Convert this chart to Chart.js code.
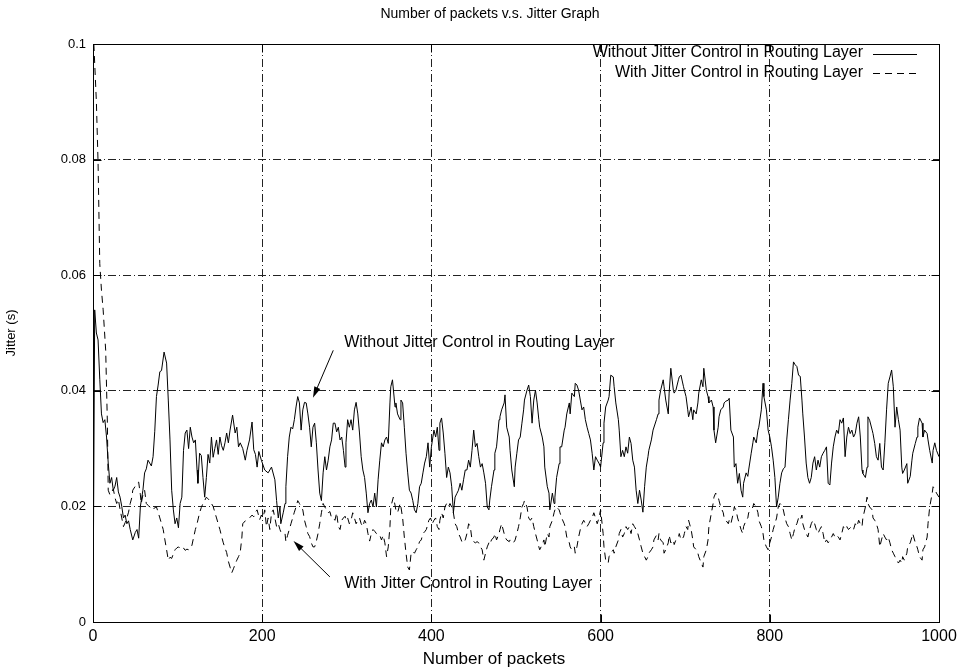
<!DOCTYPE html>
<html>
<head>
<meta charset="utf-8">
<script src="https://cdn.jsdelivr.net/npm/chart.js@4.4.1/dist/chart.umd.min.js"></script>
<style>
  html, body { margin: 0; padding: 0; background: #fff; }
  #wrap { width: 962px; height: 669px; }
</style>
</head>
<body>
<div id="wrap"><canvas id="graph01"></canvas></div>
<script>
const xTicks = [0, 200, 400, 600, 800, 1000];
const yTicks = [0, 0.02, 0.04, 0.06, 0.08, 0.1];
const seriesNames = ['Without Jitter Control in Routing Layer', 'With Jitter Control in Routing Layer'];
const chartTitle = 'Number of packets v.s. Jitter Graph';
const xTitle = 'Number of packets';

// [packet, jitter (s)]
const withoutJitter = [
  [0,0],[2,0.054],[4,0.05],[6,0.0488],[8,0.042],[10,0.036],[12,0.0345],[14,0.035],[16,0.032],[18,0.0275],
  [20,0.024],[22,0.025],[24,0.0228],[26,0.0235],[28,0.025],[30,0.0225],[32,0.0216],[34,0.02],[36,0.018],[38,0.0185],
  [40,0.017],[42,0.0175],[44,0.016],[47,0.0142],[50,0.0155],[52,0.016],[54,0.0145],[56,0.02],[59,0.0228],[61,0.0258],
  [63,0.0265],[65,0.028],[67,0.0275],[69,0.027],[71,0.0286],[73,0.033],[75,0.039],[77,0.041],[79,0.0433],[81,0.0435],
  [84,0.0467],[87,0.0448],[89,0.0384],[91,0.0315],[93,0.0228],[95,0.0194],[97,0.017],[99,0.018],[101,0.0163],[103,0.0205],
  [105,0.0216],[107,0.0297],[109,0.0327],[111,0.0332],[113,0.03],[115,0.0337],[117,0.032],[119,0.031],[121,0.0315],[123,0.0263],
  [124,0.024],[126,0.0292],[128,0.0288],[130,0.025],[132,0.0216],[134,0.025],[136,0.029],[138,0.0275],[140,0.032],[142,0.0285],
  [144,0.03],[146,0.0315],[148,0.029],[150,0.032],[152,0.0305],[154,0.0297],[156,0.031],[158,0.0327],[160,0.031],[162,0.0332],
  [165,0.0358],[168,0.0327],[170,0.0337],[172,0.0303],[174,0.031],[177,0.03],[180,0.028],[182,0.0297],[185,0.0315],[188,0.0346],
  [190,0.0298],[192,0.029],[194,0.0268],[196,0.0295],[199,0.028],[203,0.0263],[207,0.0258],[211,0.0268],[215,0.0246],[217,0.021],
  [219,0.018],[221,0.0199],[222,0.017],[225,0.019],[227,0.0205],[228,0.0234],[230,0.0286],[232,0.032],[234,0.0337],[236,0.0334],
  [238,0.035],[240,0.0372],[242,0.039],[244,0.0379],[246,0.0332],[248,0.0367],[250,0.038],[252,0.0379],[254,0.036],[256,0.0337],
  [258,0.0303],[260,0.0337],[262,0.0344],[264,0.031],[266,0.0263],[268,0.0223],[270,0.021],[272,0.0258],[274,0.0286],[276,0.0263],
  [278,0.028],[280,0.0303],[282,0.0315],[284,0.0344],[286,0.0344],[288,0.0329],[290,0.0337],[292,0.0315],[294,0.032],[296,0.0297],
  [298,0.0268],[299,0.031],[301,0.035],[303,0.0337],[305,0.035],[307,0.0332],[309,0.0367],[311,0.038],[313,0.036],[315,0.0327],
  [317,0.0286],[319,0.0263],[321,0.025],[323,0.0223],[325,0.0189],[327,0.0205],[329,0.0211],[331,0.0199],[333,0.0223],[335,0.0199],
  [337,0.0246],[339,0.028],[341,0.031],[343,0.0303],[345,0.0315],[347,0.032],[349,0.0309],[351,0.0379],[352,0.0407],[354,0.0419],
  [357,0.0372],[358,0.0379],[360,0.036],[363,0.035],[364,0.0384],[366,0.0379],[368,0.0337],[370,0.0292],[372,0.0258],[374,0.0228],
  [376,0.0223],[378,0.021],[380,0.0194],[382,0.0189],[384,0.0205],[386,0.0234],[388,0.024],[390,0.0258],[392,0.0275],[394,0.0286],
  [396,0.031],[398,0.0268],[400,0.0303],[403,0.0332],[405,0.032],[407,0.0337],[409,0.0297],[410,0.0344],[412,0.0353],[414,0.0327],
  [416,0.0292],[418,0.025],[420,0.0268],[422,0.0258],[424,0.0234],[426,0.0189],[428,0.0216],[430,0.0222],[432,0.0228],[434,0.024],
  [436,0.0228],[438,0.0246],[440,0.0263],[442,0.0263],[444,0.028],[446,0.0268],[448,0.0297],[450,0.0332],[452,0.0303],[454,0.0309],
  [456,0.0286],[458,0.0268],[460,0.0274],[462,0.0258],[464,0.024],[466,0.0199],[468,0.0194],[469,0.0211],[471,0.0234],[474,0.0263],
  [475,0.0292],[477,0.0303],[480,0.035],[481,0.0355],[483,0.0367],[486,0.0379],[487,0.0393],[489,0.0337],[492,0.032],[493,0.0297],
  [495,0.0263],[498,0.0234],[499,0.0268],[501,0.0292],[503,0.0315],[505,0.032],[507,0.0344],[509,0.0367],[510,0.0384],[513,0.0401],
  [515,0.041],[517,0.039],[519,0.0344],[521,0.0384],[523,0.0401],[525,0.0379],[527,0.035],[528,0.0337],[531,0.032],[533,0.0303],
  [534,0.0268],[537,0.0234],[539,0.0223],[540,0.0194],[543,0.0223],[545,0.0205],[546,0.0216],[548,0.025],[551,0.0274],[552,0.0303],
  [554,0.0303],[557,0.0332],[558,0.0337],[560,0.036],[563,0.0379],[564,0.036],[566,0.0396],[569,0.039],[570,0.0413],[572,0.041],
  [574,0.0401],[576,0.0384],[578,0.0367],[580,0.0372],[582,0.035],[584,0.0337],[586,0.0326],[588,0.0315],[590,0.0292],[592,0.0263],
  [594,0.0286],[596,0.028],[598,0.0275],[600,0.0268],[603,0.031],[604,0.0344],[606,0.0372],[609,0.0384],[610,0.039],[612,0.0427],
  [615,0.0424],[616,0.0407],[618,0.0379],[621,0.035],[622,0.0332],[624,0.0286],[626,0.0297],[628,0.0286],[630,0.0303],[632,0.0292],
  [634,0.032],[636,0.0309],[638,0.028],[640,0.0268],[642,0.0228],[644,0.0205],[646,0.0228],[648,0.0211],[650,0.019],[652,0.0234],
  [654,0.0268],[656,0.0286],[657,0.0297],[660,0.0315],[662,0.0332],[663,0.0332],[666,0.035],[668,0.036],[669,0.0384],[671,0.0401],
  [674,0.0419],[675,0.0407],[677,0.0384],[680,0.036],[681,0.0396],[683,0.0439],[686,0.0401],[687,0.0396],[689,0.0401],[692,0.0419],
  [693,0.0424],[695,0.0427],[698,0.0407],[699,0.0401],[701,0.039],[703,0.0367],[704,0.0355],[707,0.0372],[709,0.035],[710,0.0367],
  [713,0.036],[715,0.0379],[716,0.0396],[719,0.0419],[721,0.0407],[722,0.0439],[725,0.0401],[727,0.039],[728,0.0379],[731,0.0384],
  [733,0.0372],[734,0.0332],[736,0.031],[739,0.0337],[740,0.0355],[742,0.0367],[745,0.0372],[746,0.0379],[748,0.0382],[751,0.0384],
  [752,0.0387],[754,0.0332],[757,0.032],[758,0.0268],[760,0.0274],[762,0.024],[764,0.0257],[766,0.0228],[768,0.0216],[769,0.024],
  [772,0.0258],[774,0.0252],[775,0.0263],[778,0.0292],[780,0.031],[781,0.032],[784,0.031],[786,0.0332],[787,0.0337],[790,0.0367],
  [792,0.0413],[793,0.039],[796,0.0367],[798,0.0332],[800,0.032],[802,0.0303],[804,0.028],[806,0.025],[808,0.0199],[810,0.0216],
  [812,0.024],[814,0.0258],[816,0.0265],[818,0.0268],[820,0.0315],[822,0.035],[824,0.0384],[826,0.0413],[828,0.045],[830,0.0445],
  [832,0.0442],[834,0.0427],[836,0.0425],[838,0.0384],[839,0.036],[841,0.032],[843,0.0275],[845,0.025],[847,0.024],[849,0.025],
  [851,0.0275],[853,0.0286],[855,0.0263],[857,0.028],[859,0.0268],[861,0.0286],[863,0.0292],[865,0.0297],[867,0.0303],[869,0.024],
  [871,0.0237],[873,0.0275],[875,0.0303],[877,0.032],[879,0.0332],[881,0.0326],[883,0.035],[885,0.0344],[887,0.0353],[889,0.0286],
  [891,0.032],[893,0.0337],[895,0.0326],[897,0.0332],[899,0.032],[901,0.0326],[903,0.0344],[905,0.0355],[907,0.032],[909,0.0263],
  [910,0.0257],[913,0.025],[915,0.0268],[916,0.0355],[918,0.0349],[921,0.0332],[922,0.0326],[924,0.0309],[926,0.0286],[928,0.028],
  [930,0.0309],[932,0.0268],[934,0.0263],[936,0.031],[938,0.0367],[940,0.0413],[942,0.0424],[944,0.0436],[946,0.0407],[948,0.0337],
  [950,0.0372],[952,0.035],[954,0.0332],[956,0.0268],[957,0.0257],[959,0.0263],[962,0.0274],[963,0.024],[966,0.0252],[968,0.028],
  [969,0.0292],[972,0.0309],[974,0.032],[975,0.0337],[977,0.0353],[980,0.0344],[981,0.032],[983,0.0332],[986,0.0326],[987,0.0315],
  [989,0.0297],[992,0.0275],[993,0.0297],[995,0.031],[997,0.0297],[1000,0.0286]
];

const withJitter = [
  [1,0.1],[4,0.09],[6,0.0794],[8,0.062],[10,0.0574],[12,0.054],[15,0.047],[17,0.0344],[18,0.0228],[20,0.022],
  [22,0.0225],[24,0.023],[26,0.0215],[28,0.0205],[30,0.0212],[32,0.0195],[34,0.018],[36,0.0165],[38,0.0172],[40,0.018],
  [42,0.019],[44,0.0205],[46,0.0216],[47,0.0228],[50,0.0235],[52,0.024],[54,0.0242],[56,0.022],[57,0.0205],[59,0.022],
  [61,0.0228],[63,0.0205],[65,0.0202],[67,0.0199],[69,0.0196],[71,0.0194],[73,0.0198],[75,0.0199],[77,0.019],[79,0.018],
  [81,0.017],[83,0.016],[85,0.0142],[87,0.0125],[89,0.0107],[91,0.0112],[93,0.011],[95,0.0118],[97,0.0125],[99,0.0128],
  [101,0.013],[103,0.0127],[105,0.0125],[107,0.0128],[109,0.0124],[111,0.0126],[113,0.0125],[115,0.0127],[117,0.0133],[119,0.0147],
  [121,0.016],[123,0.017],[126,0.0189],[128,0.0198],[130,0.0205],[132,0.021],[134,0.0216],[136,0.0213],[138,0.021],[140,0.0205],
  [142,0.02],[144,0.019],[146,0.018],[148,0.017],[150,0.016],[152,0.0148],[154,0.0137],[156,0.0128],[158,0.012],[160,0.0105],
  [162,0.0095],[164,0.0085],[166,0.0092],[168,0.01],[170,0.0107],[172,0.0113],[174,0.012],[176,0.0147],[177,0.017],[180,0.0175],
  [182,0.0177],[185,0.018],[188,0.0185],[190,0.0182],[192,0.019],[194,0.0194],[197,0.0177],[199,0.0185],[201,0.018],[203,0.0194],
  [205,0.0165],[207,0.018],[209,0.016],[211,0.0189],[213,0.0194],[215,0.018],[217,0.0165],[219,0.017],[221,0.016],[222,0.0156],
  [225,0.0155],[227,0.0153],[228,0.0139],[230,0.015],[232,0.016],[234,0.017],[236,0.018],[238,0.019],[240,0.0199],[242,0.021],
  [244,0.0205],[246,0.0199],[248,0.0194],[250,0.0176],[252,0.0165],[254,0.0153],[256,0.0148],[258,0.0137],[260,0.013],[262,0.013],
  [264,0.014],[266,0.0153],[268,0.017],[270,0.0189],[272,0.0205],[274,0.0199],[276,0.0194],[278,0.0189],[280,0.0191],[282,0.018],
  [284,0.018],[286,0.0176],[288,0.0189],[290,0.0165],[292,0.016],[294,0.0176],[296,0.018],[298,0.0183],[299,0.0176],[301,0.018],
  [303,0.017],[305,0.0176],[307,0.0189],[309,0.018],[311,0.017],[313,0.0176],[315,0.018],[317,0.017],[319,0.0165],[321,0.0176],
  [323,0.017],[325,0.0153],[327,0.014],[329,0.0153],[331,0.016],[333,0.0157],[335,0.0153],[337,0.0153],[339,0.015],[341,0.0142],
  [343,0.015],[345,0.0137],[347,0.0113],[349,0.013],[351,0.0165],[352,0.0199],[355,0.0216],[356,0.021],[358,0.0194],[360,0.0189],
  [363,0.0205],[364,0.0199],[366,0.018],[368,0.0147],[370,0.0119],[372,0.0095],[374,0.009],[376,0.0119],[378,0.0122],[380,0.0119],
  [382,0.0125],[384,0.013],[386,0.0139],[388,0.0142],[390,0.0153],[392,0.0156],[394,0.016],[397,0.0176],[399,0.018],[401,0.017],
  [403,0.0176],[405,0.018],[407,0.0165],[409,0.016],[410,0.0176],[412,0.0189],[414,0.018],[416,0.0199],[418,0.0205],[420,0.0199],
  [422,0.0205],[424,0.0199],[426,0.0189],[428,0.017],[430,0.0165],[432,0.0153],[434,0.0147],[436,0.0139],[438,0.0137],[440,0.0142],
  [442,0.0153],[444,0.017],[446,0.0165],[448,0.0142],[450,0.0139],[452,0.0137],[454,0.0139],[456,0.0137],[458,0.013],[460,0.0125],
  [462,0.0107],[464,0.0119],[466,0.013],[468,0.0137],[469,0.0134],[471,0.0142],[474,0.0147],[475,0.0153],[477,0.0142],[480,0.0153],
  [481,0.016],[483,0.017],[486,0.0153],[487,0.0147],[489,0.0142],[492,0.0139],[493,0.0142],[495,0.0137],[498,0.0139],[499,0.0142],
  [501,0.0153],[503,0.0165],[505,0.018],[507,0.0199],[509,0.0205],[510,0.021],[513,0.0199],[515,0.018],[517,0.0176],[519,0.018],
  [521,0.0165],[523,0.0153],[525,0.0142],[527,0.013],[528,0.0125],[531,0.0134],[533,0.0142],[534,0.013],[537,0.0153],[539,0.0147],
  [540,0.0165],[543,0.0176],[545,0.0189],[546,0.0194],[548,0.0199],[551,0.0194],[552,0.0189],[554,0.018],[557,0.017],[558,0.0165],
  [560,0.0147],[563,0.0137],[564,0.013],[566,0.0125],[569,0.013],[570,0.0119],[572,0.013],[574,0.0147],[576,0.016],[578,0.017],
  [580,0.0176],[582,0.017],[584,0.0165],[586,0.017],[588,0.0176],[590,0.018],[592,0.0189],[594,0.018],[596,0.017],[598,0.018],
  [600,0.0194],[603,0.0153],[604,0.013],[606,0.0107],[609,0.0102],[610,0.0113],[612,0.0119],[615,0.0125],[616,0.0119],[618,0.013],
  [621,0.0142],[622,0.0153],[624,0.016],[626,0.0147],[628,0.0153],[630,0.0165],[632,0.016],[634,0.0165],[636,0.0153],[638,0.017],
  [640,0.0165],[642,0.016],[644,0.0153],[646,0.0142],[648,0.013],[650,0.0119],[652,0.0113],[654,0.0107],[656,0.0113],[657,0.0119],
  [660,0.0125],[662,0.013],[663,0.0142],[666,0.015],[668,0.0142],[669,0.0153],[671,0.0142],[674,0.0137],[675,0.0119],[677,0.0125],
  [680,0.0137],[681,0.015],[683,0.0137],[686,0.0142],[687,0.0134],[689,0.0142],[692,0.0147],[693,0.0153],[695,0.0142],[698,0.0147],
  [699,0.0153],[701,0.0165],[703,0.016],[704,0.0176],[707,0.016],[709,0.0142],[710,0.013],[713,0.0125],[715,0.0119],[716,0.0113],
  [719,0.0102],[721,0.0095],[722,0.0113],[725,0.0125],[727,0.0142],[728,0.0165],[731,0.0189],[733,0.0205],[734,0.0216],[736,0.0223],
  [739,0.0216],[740,0.021],[742,0.0199],[745,0.0189],[746,0.018],[748,0.0176],[751,0.017],[752,0.0176],[754,0.017],[757,0.0189],
  [758,0.0199],[760,0.0194],[762,0.018],[764,0.017],[766,0.016],[768,0.0153],[769,0.0165],[772,0.0176],[774,0.018],[775,0.0189],
  [778,0.0194],[780,0.0199],[781,0.0205],[784,0.0199],[786,0.0189],[787,0.0176],[790,0.0165],[792,0.0153],[793,0.0142],[794,0.0137],
  [796,0.013],[798,0.0125],[800,0.0137],[802,0.0147],[804,0.016],[806,0.017],[808,0.018],[810,0.0199],[812,0.0205],[814,0.0202],
  [816,0.0194],[818,0.018],[820,0.017],[822,0.0165],[824,0.0153],[826,0.0142],[828,0.0153],[830,0.0165],[832,0.017],[834,0.018],
  [836,0.0176],[838,0.0185],[839,0.017],[841,0.016],[843,0.0153],[845,0.0147],[847,0.016],[849,0.017],[851,0.0176],[853,0.017],
  [855,0.016],[857,0.0153],[859,0.016],[861,0.0165],[863,0.0153],[865,0.0137],[867,0.0142],[869,0.0137],[871,0.0142],[873,0.0147],
  [875,0.0153],[877,0.0147],[879,0.015],[881,0.0147],[883,0.0142],[885,0.0153],[887,0.0165],[889,0.016],[891,0.0165],[893,0.016],
  [895,0.0163],[897,0.0165],[899,0.016],[901,0.017],[903,0.0165],[905,0.0176],[907,0.017],[909,0.0165],[910,0.018],[913,0.0199],
  [915,0.0216],[916,0.0205],[918,0.0199],[921,0.0194],[922,0.018],[924,0.0176],[926,0.017],[928,0.016],[930,0.013],[932,0.0142],
  [934,0.0153],[936,0.0147],[938,0.0142],[940,0.0147],[942,0.0137],[944,0.0125],[946,0.0119],[948,0.0113],[950,0.0107],[952,0.0102],
  [954,0.0107],[956,0.0102],[957,0.0113],[959,0.0107],[962,0.0119],[963,0.013],[966,0.0137],[968,0.0147],[969,0.0153],[972,0.0137],
  [974,0.013],[975,0.0125],[977,0.0113],[980,0.0107],[981,0.0125],[983,0.013],[986,0.0147],[987,0.017],[989,0.0199],[992,0.0223],
  [993,0.0234],[995,0.023],[997,0.0223],[1000,0.0216]
];

// text labels with arrows inside the plot, in data units
const notes = [
  { text: seriesNames[0], at: [297, 0.0483], from: [284, 0.0470], to: [260, 0.0388] },
  { text: seriesNames[1], at: [297, 0.0067], from: [280, 0.0078], to: [237, 0.0140] }
];

const FONT = '"Liberation Sans", Arial, sans-serif';
Chart.defaults.font.family = FONT;
Chart.defaults.font.size = 16;
Chart.defaults.color = '#000';

const toPoints = rows => rows.map(r => ({ x: r[0], y: r[1] }));

function arrow(ctx, x1, y1, x2, y2) {
  const ang = Math.atan2(y2 - y1, x2 - x1);
  const len = 11, half = 3.2;
  ctx.beginPath();
  ctx.moveTo(x1, y1);
  ctx.lineTo(x2 - Math.cos(ang) * len * 0.8, y2 - Math.sin(ang) * len * 0.8);
  ctx.stroke();
  ctx.beginPath();
  ctx.moveTo(x2, y2);
  ctx.lineTo(x2 - Math.cos(ang) * len + Math.sin(ang) * half, y2 - Math.sin(ang) * len - Math.cos(ang) * half);
  ctx.lineTo(x2 - Math.cos(ang) * len - Math.sin(ang) * half, y2 - Math.sin(ang) * len + Math.cos(ang) * half);
  ctx.closePath();
  ctx.fill();
}

// gnuplot style frame, inward ticks, titles, key and arrows
const gnuFrame = {
  id: 'gnuFrame',
  afterDraw(chart) {
    const { ctx, chartArea: a, scales: { x, y } } = chart;
    ctx.save();
    ctx.strokeStyle = '#000';
    ctx.fillStyle = '#000';
    ctx.lineWidth = 1;
    ctx.setLineDash([]);
    const L = Math.round(a.left) + 0.5, R = Math.round(a.right) + 0.5;
    const T = Math.round(a.top) + 0.5, B = Math.round(a.bottom) + 0.5;
    ctx.strokeRect(L, T, R - L, B - T);

    ctx.beginPath();
    xTicks.forEach(v => {
      const px = Math.round(x.getPixelForValue(v)) + 0.5;
      ctx.moveTo(px, B); ctx.lineTo(px, B - 8);
      ctx.moveTo(px, T); ctx.lineTo(px, T + 8);
    });
    yTicks.forEach(v => {
      const py = Math.round(y.getPixelForValue(v)) + 0.5;
      ctx.moveTo(L, py); ctx.lineTo(L + 8, py);
      ctx.moveTo(R, py); ctx.lineTo(R - 8, py);
    });
    ctx.stroke();

    ctx.textBaseline = 'middle';
    ctx.textAlign = 'center';

    // titles
    ctx.font = '14px ' + FONT;
    ctx.fillText(chartTitle, 490, 14);
    ctx.font = '17px ' + FONT;
    ctx.fillText(xTitle, 494, 659);

    // key, top right
    ctx.font = '16px ' + FONT;
    ctx.textAlign = 'right';
    chart.data.datasets.forEach((ds, i) => {
      const ty = a.top + 9 + i * 20;
      ctx.fillText(ds.label, a.right - 76, ty);
      ctx.setLineDash(ds.borderDash || []);
      ctx.beginPath();
      ctx.moveTo(a.right - 66, Math.round(ty) + 1.5 - i);
      ctx.lineTo(a.right - 22, Math.round(ty) + 1.5 - i);
      ctx.stroke();
    });
    ctx.setLineDash([]);

    // labels with arrows
    ctx.textAlign = 'left';
    notes.forEach(n => {
      ctx.fillText(n.text, x.getPixelForValue(n.at[0]), y.getPixelForValue(n.at[1]));
      arrow(ctx, x.getPixelForValue(n.from[0]), y.getPixelForValue(n.from[1]),
        x.getPixelForValue(n.to[0]), y.getPixelForValue(n.to[1]));
    });
    ctx.restore();
  }
};

const edgeless = max => c => (c.tick && (c.tick.value === 0 || Math.abs(c.tick.value - max) < 1e-9)) ? 'rgba(0,0,0,0)' : '#222';

new Chart(document.getElementById('graph01'), {
  type: 'line',
  data: {
    datasets: [
      {
        label: seriesNames[0],
        data: toPoints(withoutJitter),
        borderColor: '#000',
        borderWidth: 1,
        pointRadius: 0,
        tension: 0
      },
      {
        label: seriesNames[1],
        data: toPoints(withJitter),
        borderColor: '#000',
        borderWidth: 1,
        borderDash: [7, 5],
        pointRadius: 0,
        tension: 0
      }
    ]
  },
  options: {
    responsive: true,
    maintainAspectRatio: false,
    animation: false,
    layout: { padding: { left: 0, right: 23, top: 44, bottom: 0 } },
    plugins: {
      legend: { display: false },
      tooltip: { enabled: false },
      title: { display: false }
    },
    scales: {
      x: {
        type: 'linear',
        min: 0,
        max: 1000,
        afterFit: s => { s.height = 47; },
        afterBuildTicks: s => { s.ticks = xTicks.map(v => ({ value: v })); },
        ticks: { padding: 5, maxRotation: 0, color: '#000', font: { size: 16 }, callback: v => String(v) },
        grid: { color: edgeless(1000), lineWidth: 1, drawTicks: false },
        border: { display: false, dash: [8, 3, 1, 3] },
        title: { display: false }
      },
      y: {
        min: 0,
        max: 0.1,
        afterFit: s => { s.width = 93; },
        afterBuildTicks: s => { s.ticks = yTicks.map(v => ({ value: v })); },
        ticks: { padding: 7, color: '#000', font: { size: 13 }, callback: v => String(+v.toFixed(2)) },
        grid: { color: edgeless(0.1), lineWidth: 1, drawTicks: false },
        border: { display: false, dash: [8, 3, 1, 3] },
        title: { display: true, text: 'Jitter (s)', color: '#000', font: { size: 13 }, padding: { top: 4, bottom: 0 } }
      }
    }
  },
  plugins: [gnuFrame]
});
</script>
</body>
</html>
